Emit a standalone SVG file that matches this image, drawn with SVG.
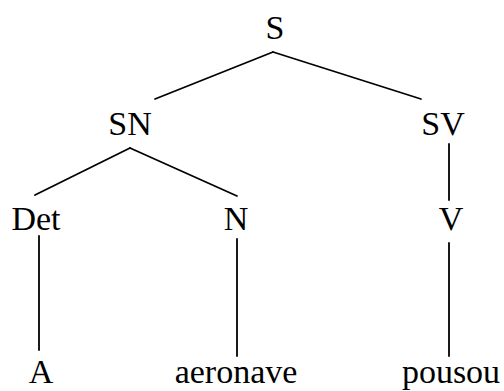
<svg xmlns="http://www.w3.org/2000/svg" width="504" height="391" viewBox="0 0 504 391">
<style>
text{font-family:"Liberation Serif","Times New Roman",serif;font-size:34px;fill:#000;text-anchor:middle}
.e{stroke:#000;stroke-width:1.8;fill:none;stroke-linecap:round}
</style>
<rect width="504" height="391" fill="#fff"/>
<g id="connectors">
<line class="e" x1="273" y1="52" x2="155" y2="99"/>
<line class="e" x1="273" y1="52" x2="421" y2="99"/>
<line class="e" x1="130" y1="148" x2="35" y2="195"/>
<line class="e" x1="130" y1="148" x2="237" y2="196"/>
<line class="e" x1="449" y1="144" x2="449" y2="200"/>
<line class="e" x1="39" y1="236" x2="39" y2="350"/>
<line class="e" x1="237" y1="239" x2="237" y2="356"/>
<line class="e" x1="449" y1="243" x2="449" y2="356"/>
</g>
<g id="S"><text x="275" y="39">S</text></g>
<g id="SN"><text x="130" y="135">SN</text></g>
<g id="SV"><text x="443" y="135">SV</text></g>
<g id="Det"><text x="36" y="230">Det</text></g>
<g id="N"><text x="236" y="230">N</text></g>
<g id="V"><text x="451" y="230">V</text></g>
<g id="A"><text x="41" y="383">A</text></g>
<g id="aeronave"><text x="236" y="383">aeronave</text></g>
<g id="pousou"><text x="451" y="383">pousou</text></g>
</svg>
